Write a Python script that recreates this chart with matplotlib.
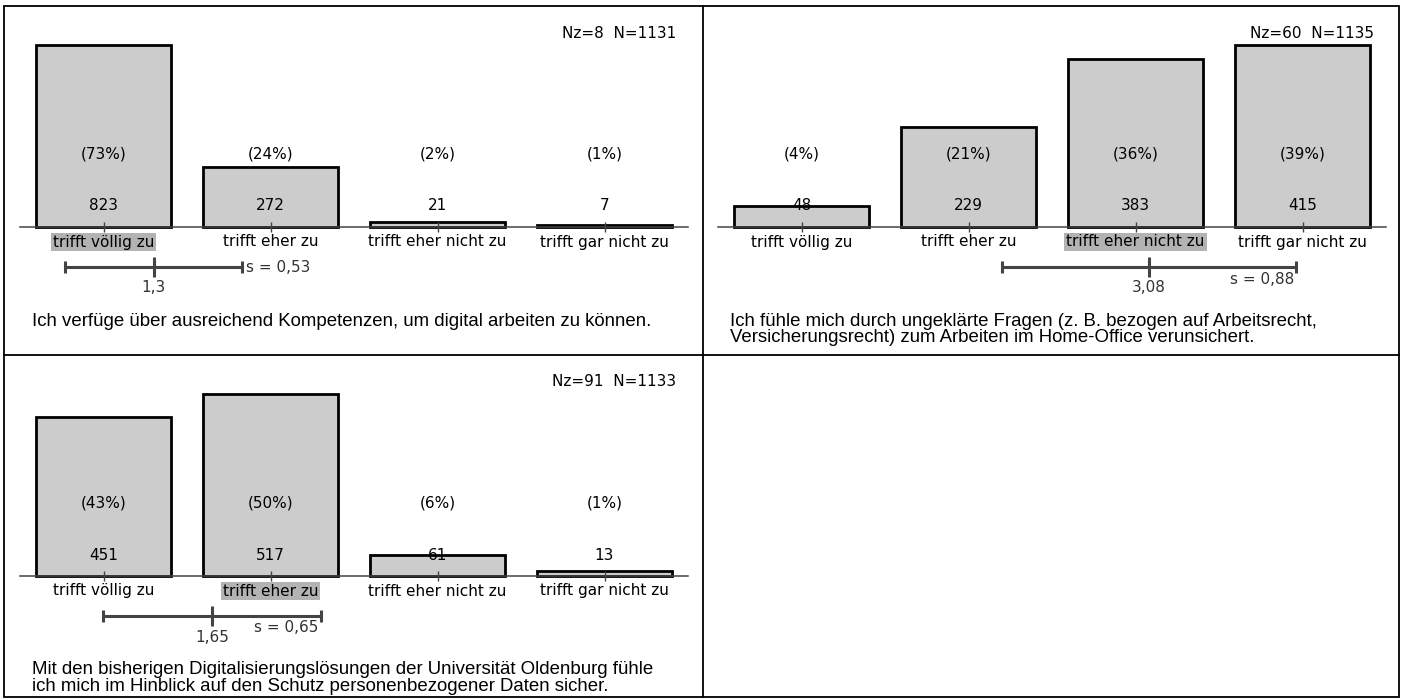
import matplotlib
matplotlib.use("Agg")
import matplotlib.pyplot as plt
from matplotlib.lines import Line2D
from matplotlib.patches import Rectangle
from matplotlib.transforms import offset_copy


categories = ["trifft völlig zu", "trifft eher zu", "trifft eher nicht zu", "trifft gar nicht zu"]

counts_1 = [823, 272, 21, 7]
percents_1 = [73, 24, 2, 1]
counts_2 = [48, 229, 383, 415]
percents_2 = [4, 21, 36, 39]
counts_3 = [451, 517, 61, 13]
percents_3 = [43, 50, 6, 1]

means = [1.3, 3.08, 1.65]
sds = [0.53, 0.88, 0.65]
nz_values = [8, 60, 91]
n_values = [1131, 1135, 1133]

questions = [
    ["Ich verfüge über ausreichend Kompetenzen, um digital arbeiten zu können."],
    ["Ich fühle mich durch ungeklärte Fragen (z. B. bezogen auf Arbeitsrecht,",
     "Versicherungsrecht) zum Arbeiten im Home-Office verunsichert."],
    ["Mit den bisherigen Digitalisierungslösungen der Universität Oldenburg fühle",
     "ich mich im Hinblick auf den Schutz personenbezogener Daten sicher."],
]

all_counts = [counts_1, counts_2, counts_3]
all_percents = [percents_1, percents_2, percents_3]

# layout in pixels: left end of the axis line and baseline y (from top)
W, H = 1404, 700
PANELS = [(20, 227), (718, 227), (20, 576)]
AX_W = 668
BAR_H = 182
SD_BESIDE = [True, False, False]

LABEL_FONT = "DejaVu Sans"
TEXT_FONT = "Liberation Sans"
DARK = "#444444"


def fx(px):
    return px / W


def fy(py):
    return 1 - py / H


fig = plt.figure(figsize=(W / 100, H / 100), dpi=100)

# panel borders
border_kw = dict(color="black", lw=1.3, transform=fig.transFigure)
fig.add_artist(Rectangle((fx(4), fy(697)), fx(1399) - fx(4), fy(6) - fy(697),
                         fill=False, ec="black", lw=1.3, transform=fig.transFigure))
fig.add_artist(Line2D([fx(702.5), fx(702.5)], [fy(6), fy(697)], **border_kw))
fig.add_artist(Line2D([fx(4), fx(1399)], [fy(354.5), fy(354.5)], **border_kw))

x = [1, 2, 3, 4]

for k in range(3):
    left, base = PANELS[k]
    counts = all_counts[k]
    percents = all_percents[k]
    mean = means[k]
    sd = sds[k]

    ax = fig.add_axes([fx(left), fy(base), AX_W / W, BAR_H / H])
    ax.set_xlim(0.5, 4.5)
    ax.set_ylim(0, max(counts))
    for side in ["top", "left", "right"]:
        ax.spines[side].set_visible(False)
    ax.spines["bottom"].set_color(DARK)
    ax.spines["bottom"].set_linewidth(1.1)
    ax.set_yticks([])
    ax.set_xticks(x, [""] * 4)
    ax.tick_params(axis="x", direction="inout", length=7, width=1, color=DARK)
    ax.patch.set_visible(False)

    ax.bar(x, counts, width=0.81, color="#cccccc", edgecolor="black", linewidth=2, clip_on=False)

    xt = ax.get_xaxis_transform()

    def shifted(dy, trans=xt, dx=0):
        return offset_copy(trans, fig=fig, x=dx, y=dy, units="dots")

    highlight = round(mean)
    for xi, cat, c, p in zip(x, categories, counts, percents):
        ax.text(xi, 0, f"({p}%)", transform=shifted(73), ha="center", va="center",
                fontsize=11, family=LABEL_FONT)
        ax.text(xi, 0, str(c), transform=shifted(21), ha="center", va="center",
                fontsize=11, family=LABEL_FONT)
        box = None
        if xi == highlight:
            box = dict(boxstyle="square,pad=0.12", fc="#b3b3b3", ec="none")
        ax.text(xi, 0, cat, transform=shifted(-15), ha="center", va="center",
                fontsize=11, family=LABEL_FONT, bbox=box)

    # mean and standard deviation
    sd_trans = shifted(-40)
    ax.plot([mean - sd, mean + sd], [0, 0], color=DARK, lw=2.2, transform=sd_trans,
            marker="|", markersize=9, markeredgewidth=2.2, clip_on=False, solid_capstyle="butt")
    ax.plot([mean], [0], color=DARK, marker="|", markersize=15, markeredgewidth=2.2,
            transform=sd_trans, clip_on=False)
    mean_txt = f"{mean:.2f}".rstrip("0").replace(".", ",")
    ax.text(mean, 0, mean_txt, transform=shifted(-61), ha="center", va="center",
            fontsize=11, family=LABEL_FONT, color="#333333")
    sd_txt = f"s = {sd:.2f}".replace(".", ",")
    if SD_BESIDE[k]:
        ax.text(mean + sd, 0, sd_txt, transform=shifted(-40, dx=4), ha="left", va="center",
                fontsize=11, family=LABEL_FONT, color="#333333")
    else:
        ax.text(mean + sd, 0, sd_txt, transform=shifted(-52, dx=-2), ha="right", va="center",
                fontsize=11, family=LABEL_FONT, color="#333333")

    ax.text(1, 0, f"Nz={nz_values[k]}  N={n_values[k]}",
            transform=shifted(194, trans=ax.transAxes, dx=-12), ha="right", va="center",
            fontsize=11, family=LABEL_FONT)

    for i, line in enumerate(questions[k]):
        ax.text(0, 0, line, transform=shifted(-94 - 16.5 * i, trans=ax.transAxes, dx=12),
                ha="left", va="center", fontsize=13.4, family=TEXT_FONT)

fig.savefig("out.png", dpi=100)
